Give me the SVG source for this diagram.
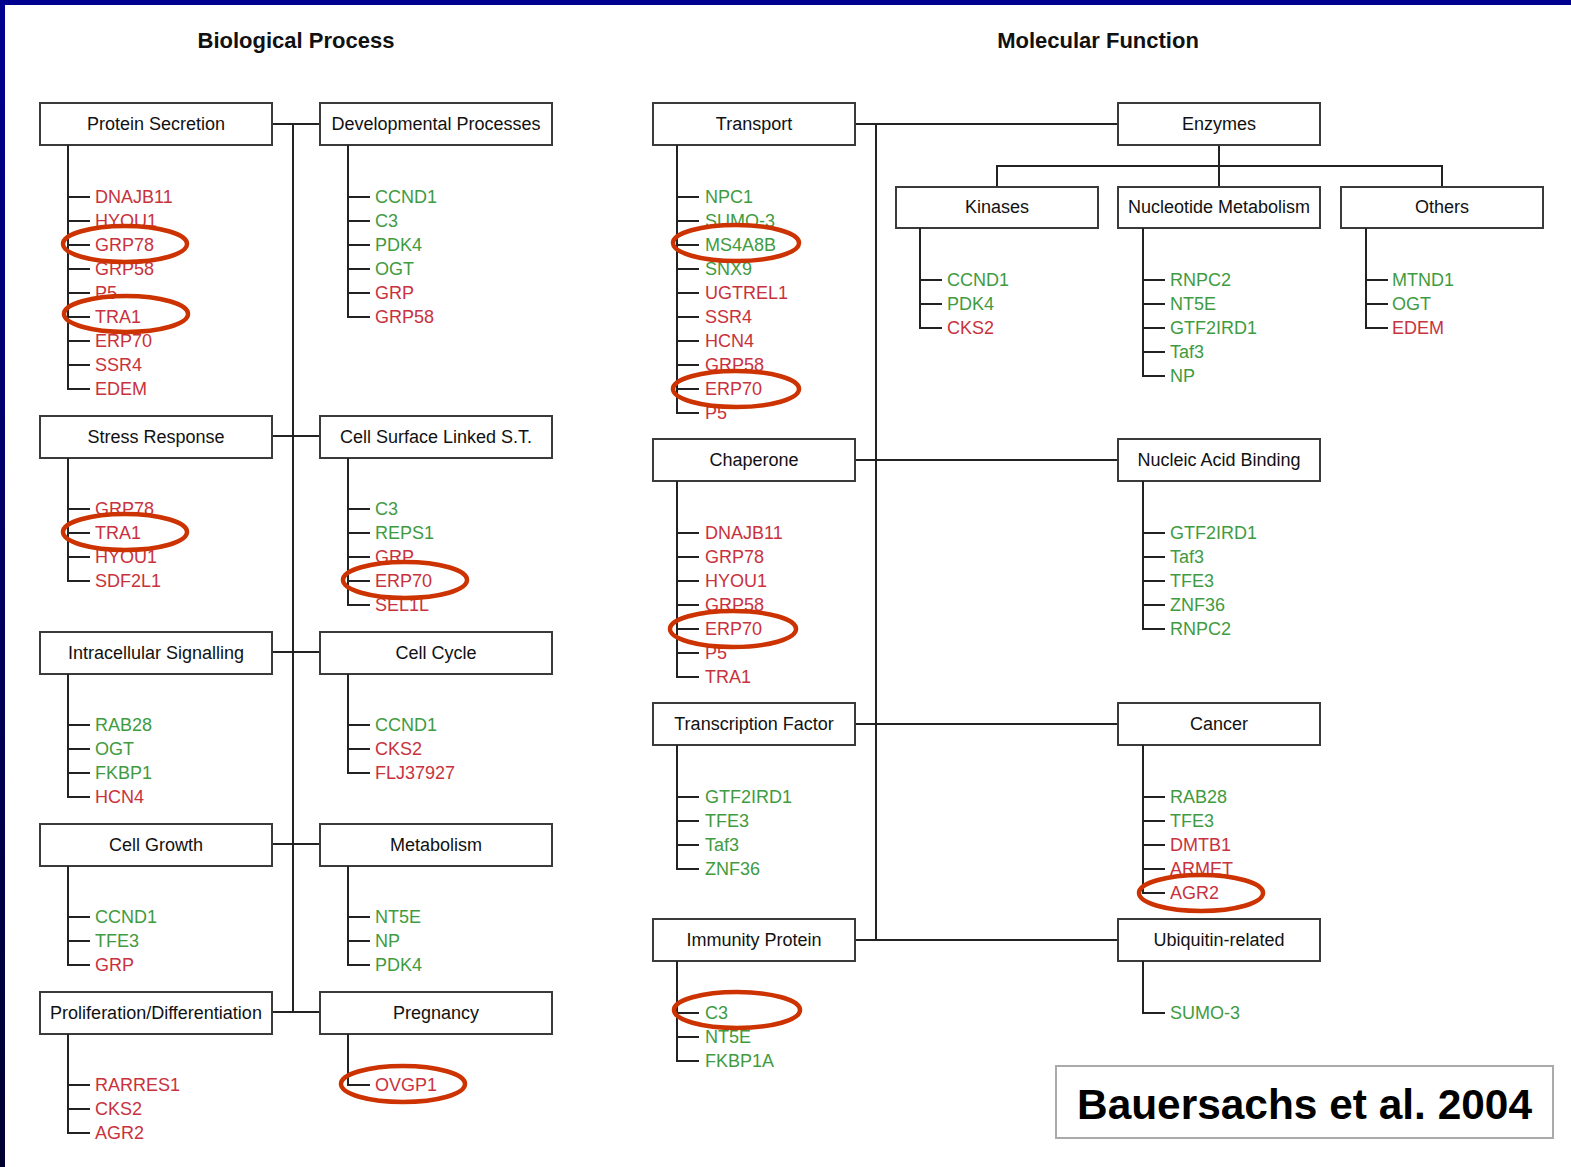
<svg xmlns="http://www.w3.org/2000/svg" width="1571" height="1167" viewBox="0 0 1571 1167">
<defs>
<linearGradient id="lb" x1="0" y1="0" x2="0" y2="1"><stop offset="0" stop-color="#000090"/><stop offset="1" stop-color="#000030"/></linearGradient>
<style>
.box{fill:#fff;stroke:#3a3a3a;stroke-width:2}
.bl{font-family:"Liberation Sans",Arial,sans-serif;font-size:18px;fill:#111;text-anchor:middle}
.ttl{font-family:"Liberation Sans",Arial,sans-serif;font-size:22px;font-weight:bold;fill:#111;text-anchor:middle}
.ln{fill:none;stroke:#222;stroke-width:2}
.g{font-family:"Liberation Sans",Arial,sans-serif;font-size:18px}
.r{fill:#c8323c}
.gr{fill:#3f9b3f}
.ov{fill:none;stroke:#cc3300;stroke-width:4.5}
</style>
</defs>
<rect width="1571" height="1167" fill="#fff"/>
<rect x="0" y="0" width="1571" height="5" fill="#000090"/>
<rect x="0" y="0" width="5" height="1167" fill="url(#lb)"/>

<text class="ttl" x="296" y="48">Biological Process</text>
<text class="ttl" x="1098" y="48">Molecular Function</text>

<g id="connectors">
<path class="ln" d="M293 124V1012M272 124H320M272 436H320M272 652H320M272 844H320M272 1012H320"/>
<path class="ln" d="M876 124V940M855 124H1118M855 460H1118M855 724H1118M855 940H1118"/>
<path class="ln" d="M1219 145V187M997 187V166H1442V187"/>
</g>

<!-- Biological Process -->
<g id="protein-secretion">
<rect class="box" x="40" y="103" width="232" height="42"/><text class="bl" x="156" y="130">Protein Secretion</text>
<path class="ln" d="M68 145V389H90M68 197H90M68 221H90M68 245H90M68 269H90M68 293H90M68 317H90M68 341H90M68 365H90"/>
<g class="g r"><text x="95" y="203">DNAJB11</text><text x="95" y="227">HYOU1</text><text x="95" y="251">GRP78</text><text x="95" y="275">GRP58</text><text x="95" y="299">P5</text><text x="95" y="323">TRA1</text><text x="95" y="347">ERP70</text><text x="95" y="371">SSR4</text><text x="95" y="395">EDEM</text></g>
</g>
<g id="developmental-processes">
<rect class="box" x="320" y="103" width="232" height="42"/><text class="bl" x="436" y="130">Developmental Processes</text>
<path class="ln" d="M348 145V317H370M348 197H370M348 221H370M348 245H370M348 269H370M348 293H370"/>
<g class="g"><text class="gr" x="375" y="203">CCND1</text><text class="gr" x="375" y="227">C3</text><text class="gr" x="375" y="251">PDK4</text><text class="gr" x="375" y="275">OGT</text><text class="r" x="375" y="299">GRP</text><text class="r" x="375" y="323">GRP58</text></g>
</g>
<g id="stress-response">
<rect class="box" x="40" y="416" width="232" height="42"/><text class="bl" x="156" y="443">Stress Response</text>
<path class="ln" d="M68 458V581H90M68 509H90M68 533H90M68 557H90"/>
<g class="g r"><text x="95" y="515">GRP78</text><text x="95" y="539">TRA1</text><text x="95" y="563">HYOU1</text><text x="95" y="587">SDF2L1</text></g>
</g>
<g id="cell-surface">
<rect class="box" x="320" y="416" width="232" height="42"/><text class="bl" x="436" y="443">Cell Surface Linked S.T.</text>
<path class="ln" d="M348 458V605H370M348 509H370M348 533H370M348 557H370M348 581H370"/>
<g class="g"><text class="gr" x="375" y="515">C3</text><text class="gr" x="375" y="539">REPS1</text><text class="r" x="375" y="563">GRP</text><text class="r" x="375" y="587">ERP70</text><text class="r" x="375" y="611">SEL1L</text></g>
</g>
<g id="intracellular-signalling">
<rect class="box" x="40" y="632" width="232" height="42"/><text class="bl" x="156" y="659">Intracellular Signalling</text>
<path class="ln" d="M68 674V797H90M68 725H90M68 749H90M68 773H90"/>
<g class="g"><text class="gr" x="95" y="731">RAB28</text><text class="gr" x="95" y="755">OGT</text><text class="gr" x="95" y="779">FKBP1</text><text class="r" x="95" y="803">HCN4</text></g>
</g>
<g id="cell-cycle">
<rect class="box" x="320" y="632" width="232" height="42"/><text class="bl" x="436" y="659">Cell Cycle</text>
<path class="ln" d="M348 674V773H370M348 725H370M348 749H370"/>
<g class="g"><text class="gr" x="375" y="731">CCND1</text><text class="r" x="375" y="755">CKS2</text><text class="r" x="375" y="779">FLJ37927</text></g>
</g>
<g id="cell-growth">
<rect class="box" x="40" y="824" width="232" height="42"/><text class="bl" x="156" y="851">Cell Growth</text>
<path class="ln" d="M68 866V965H90M68 917H90M68 941H90"/>
<g class="g"><text class="gr" x="95" y="923">CCND1</text><text class="gr" x="95" y="947">TFE3</text><text class="r" x="95" y="971">GRP</text></g>
</g>
<g id="metabolism">
<rect class="box" x="320" y="824" width="232" height="42"/><text class="bl" x="436" y="851">Metabolism</text>
<path class="ln" d="M348 866V965H370M348 917H370M348 941H370"/>
<g class="g gr"><text x="375" y="923">NT5E</text><text x="375" y="947">NP</text><text x="375" y="971">PDK4</text></g>
</g>
<g id="proliferation">
<rect class="box" x="40" y="992" width="232" height="42"/><text class="bl" x="156" y="1019">Proliferation/Differentiation</text>
<path class="ln" d="M68 1034V1133H90M68 1085H90M68 1109H90"/>
<g class="g r"><text x="95" y="1091">RARRES1</text><text x="95" y="1115">CKS2</text><text x="95" y="1139">AGR2</text></g>
</g>
<g id="pregnancy">
<rect class="box" x="320" y="992" width="232" height="42"/><text class="bl" x="436" y="1019">Pregnancy</text>
<path class="ln" d="M348 1034V1085H370"/>
<g class="g r"><text x="375" y="1091">OVGP1</text></g>
</g>

<!-- Molecular Function -->
<g id="transport">
<rect class="box" x="653" y="103" width="202" height="42"/><text class="bl" x="754" y="130">Transport</text>
<path class="ln" d="M677 145V413H699M677 197H699M677 221H699M677 245H699M677 269H699M677 293H699M677 317H699M677 341H699M677 365H699M677 389H699"/>
<g class="g"><text class="gr" x="705" y="203">NPC1</text><text class="gr" x="705" y="227">SUMO-3</text><text class="gr" x="705" y="251">MS4A8B</text><text class="gr" x="705" y="275">SNX9</text><text class="r" x="705" y="299">UGTREL1</text><text class="r" x="705" y="323">SSR4</text><text class="r" x="705" y="347">HCN4</text><text class="r" x="705" y="371">GRP58</text><text class="r" x="705" y="395">ERP70</text><text class="r" x="705" y="419">P5</text></g>
</g>
<g id="enzymes">
<rect class="box" x="1118" y="103" width="202" height="42"/><text class="bl" x="1219" y="130">Enzymes</text>
</g>
<g id="kinases">
<rect class="box" x="896" y="187" width="202" height="41"/><text class="bl" x="997" y="213">Kinases</text>
<path class="ln" d="M920 228V328H942M920 280H942M920 304H942"/>
<g class="g"><text class="gr" x="947" y="286">CCND1</text><text class="gr" x="947" y="310">PDK4</text><text class="r" x="947" y="334">CKS2</text></g>
</g>
<g id="nucleotide-metabolism">
<rect class="box" x="1118" y="187" width="202" height="41"/><text class="bl" x="1219" y="213">Nucleotide Metabolism</text>
<path class="ln" d="M1143 228V376H1165M1143 280H1165M1143 304H1165M1143 328H1165M1143 352H1165"/>
<g class="g gr"><text x="1170" y="286">RNPC2</text><text x="1170" y="310">NT5E</text><text x="1170" y="334">GTF2IRD1</text><text x="1170" y="358">Taf3</text><text x="1170" y="382">NP</text></g>
</g>
<g id="others">
<rect class="box" x="1341" y="187" width="202" height="41"/><text class="bl" x="1442" y="213">Others</text>
<path class="ln" d="M1366 228V328H1388M1366 280H1388M1366 304H1388"/>
<g class="g"><text class="gr" x="1392" y="286">MTND1</text><text class="gr" x="1392" y="310">OGT</text><text class="r" x="1392" y="334">EDEM</text></g>
</g>
<g id="chaperone">
<rect class="box" x="653" y="439" width="202" height="42"/><text class="bl" x="754" y="466">Chaperone</text>
<path class="ln" d="M677 481V677H699M677 533H699M677 557H699M677 581H699M677 605H699M677 629H699M677 653H699"/>
<g class="g r"><text x="705" y="539">DNAJB11</text><text x="705" y="563">GRP78</text><text x="705" y="587">HYOU1</text><text x="705" y="611">GRP58</text><text x="705" y="635">ERP70</text><text x="705" y="659">P5</text><text x="705" y="683">TRA1</text></g>
</g>
<g id="nucleic-acid-binding">
<rect class="box" x="1118" y="439" width="202" height="42"/><text class="bl" x="1219" y="466">Nucleic Acid Binding</text>
<path class="ln" d="M1143 481V629H1165M1143 533H1165M1143 557H1165M1143 581H1165M1143 605H1165"/>
<g class="g gr"><text x="1170" y="539">GTF2IRD1</text><text x="1170" y="563">Taf3</text><text x="1170" y="587">TFE3</text><text x="1170" y="611">ZNF36</text><text x="1170" y="635">RNPC2</text></g>
</g>
<g id="transcription-factor">
<rect class="box" x="653" y="703" width="202" height="42"/><text class="bl" x="754" y="730">Transcription Factor</text>
<path class="ln" d="M677 745V869H699M677 797H699M677 821H699M677 845H699"/>
<g class="g gr"><text x="705" y="803">GTF2IRD1</text><text x="705" y="827">TFE3</text><text x="705" y="851">Taf3</text><text x="705" y="875">ZNF36</text></g>
</g>
<g id="cancer">
<rect class="box" x="1118" y="703" width="202" height="42"/><text class="bl" x="1219" y="730">Cancer</text>
<path class="ln" d="M1143 745V893H1165M1143 797H1165M1143 821H1165M1143 845H1165M1143 869H1165"/>
<g class="g"><text class="gr" x="1170" y="803">RAB28</text><text class="gr" x="1170" y="827">TFE3</text><text class="r" x="1170" y="851">DMTB1</text><text class="r" x="1170" y="875">ARMET</text><text class="r" x="1170" y="899">AGR2</text></g>
</g>
<g id="immunity-protein">
<rect class="box" x="653" y="919" width="202" height="42"/><text class="bl" x="754" y="946">Immunity Protein</text>
<path class="ln" d="M677 961V1061H699M677 1013H699M677 1037H699"/>
<g class="g gr"><text x="705" y="1019">C3</text><text x="705" y="1043">NT5E</text><text x="705" y="1067">FKBP1A</text></g>
</g>
<g id="ubiquitin-related">
<rect class="box" x="1118" y="919" width="202" height="42"/><text class="bl" x="1219" y="946">Ubiquitin-related</text>
<path class="ln" d="M1143 961V1013H1165"/>
<g class="g gr"><text x="1170" y="1019">SUMO-3</text></g>
</g>

<g id="highlights">
<ellipse class="ov" cx="125" cy="244" rx="62" ry="18"/>
<ellipse class="ov" cx="126" cy="314" rx="62" ry="18"/>
<ellipse class="ov" cx="125" cy="532" rx="62" ry="18"/>
<ellipse class="ov" cx="405" cy="580" rx="62" ry="18"/>
<ellipse class="ov" cx="403" cy="1084" rx="62" ry="18"/>
<ellipse class="ov" cx="736" cy="243" rx="63" ry="18"/>
<ellipse class="ov" cx="736" cy="389" rx="63" ry="18"/>
<ellipse class="ov" cx="733" cy="629" rx="63" ry="18"/>
<ellipse class="ov" cx="1201" cy="893" rx="62" ry="18"/>
<ellipse class="ov" cx="737" cy="1010" rx="63" ry="18"/>
</g>

<g id="citation">
<rect x="1056" y="1066" width="497" height="72" fill="#fff" stroke="#aaa" stroke-width="2"/>
<text x="1077" y="1119" font-family="'Liberation Sans',Arial,sans-serif" font-size="43" font-weight="bold" fill="#000" textLength="455" lengthAdjust="spacingAndGlyphs">Bauersachs et al. 2004</text>
</g>
</svg>
